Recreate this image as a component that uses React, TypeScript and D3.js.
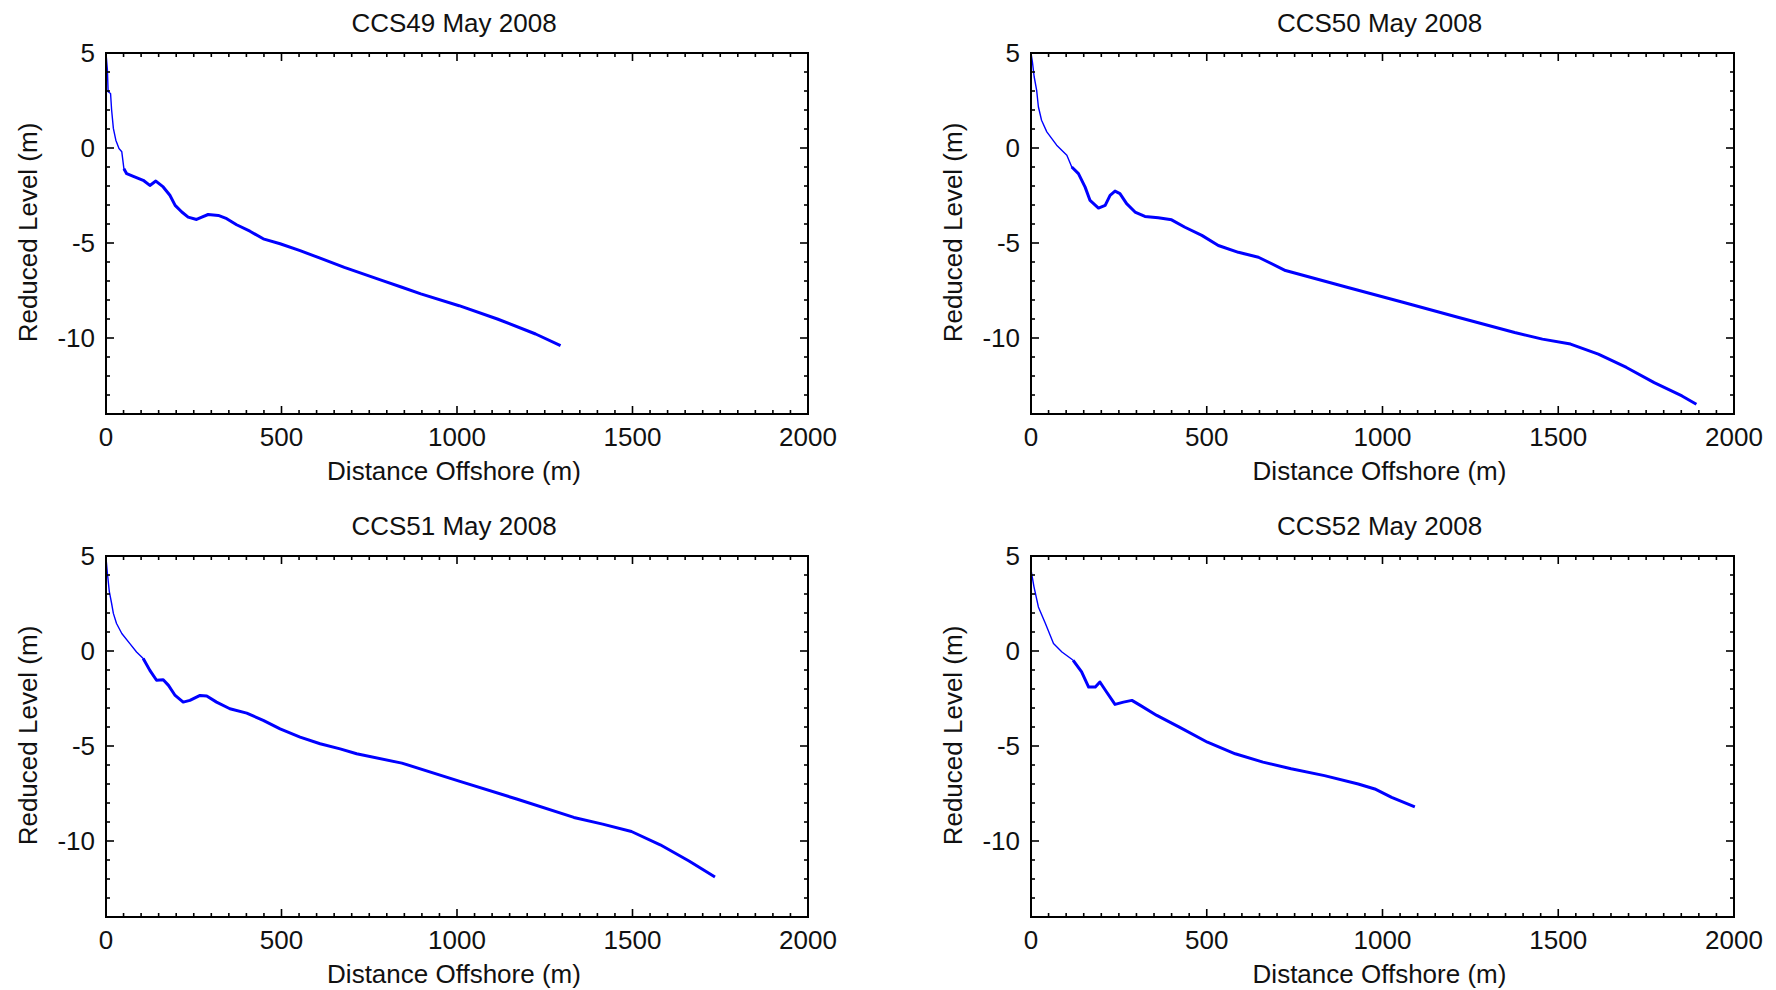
import React from "react";
import * as d3 from "d3";

// ---------- data ----------
const TITLES = ["CCS49 May 2008", "CCS50 May 2008", "CCS51 May 2008", "CCS52 May 2008"];
const X_LABEL = "Distance Offshore (m)";
const Y_LABEL = "Reduced Level (m)";
const X_DOMAIN = [0, 2000];
const Y_DOMAIN = [-14, 5];
const X_TICKS = [0, 500, 1000, 1500, 2000];
const Y_TICKS = [5, 0, -5, -10];

const CCS49_DIST = [0, 4, 6, 13, 16, 21, 28, 37, 45, 51, 59, 78, 106, 125, 142, 163, 182, 197, 216, 234, 258, 273, 291, 320, 344, 372, 410, 448, 496, 553, 610, 679, 788, 843, 897, 1006, 1115, 1224, 1295];
const CCS49_LEVEL = [5.0, 4.1, 2.96, 2.87, 2.0, 1.03, 0.41, -0.03, -0.2, -1.09, -1.35, -1.49, -1.7, -1.97, -1.74, -2.05, -2.49, -3.02, -3.37, -3.64, -3.76, -3.64, -3.5, -3.55, -3.72, -4.04, -4.38, -4.78, -5.04, -5.4, -5.8, -6.28, -6.98, -7.33, -7.68, -8.3, -9.0, -9.79, -10.4];

const CCS50_DIST = [0, 4, 9, 16, 21, 30, 45, 73, 102, 116, 135, 154, 168, 192, 211, 225, 239, 253, 272, 296, 324, 362, 400, 438, 486, 533, 590, 647, 724, 899, 1058, 1217, 1376, 1455, 1535, 1614, 1694, 1773, 1852, 1893];
const CCS50_LEVEL = [5.0, 4.54, 3.75, 3.05, 2.17, 1.46, 0.85, 0.15, -0.38, -1.0, -1.35, -2.06, -2.76, -3.16, -3.02, -2.49, -2.27, -2.4, -2.93, -3.37, -3.6, -3.67, -3.78, -4.17, -4.6, -5.13, -5.49, -5.75, -6.45, -7.33, -8.12, -8.92, -9.71, -10.06, -10.32, -10.85, -11.55, -12.35, -13.05, -13.49];

const CCS51_DIST = [0, 4, 9.5, 16, 21, 30, 45, 68, 87, 106, 125, 144, 163, 178, 197, 220, 239, 268, 287, 315, 353, 401, 448, 496, 553, 610, 667, 714, 843, 1006, 1170, 1333, 1415, 1497, 1579, 1661, 1735];
const CCS51_LEVEL = [4.9, 4.09, 3.12, 2.5, 1.98, 1.45, 0.92, 0.39, -0.05, -0.4, -1.02, -1.54, -1.51, -1.81, -2.34, -2.69, -2.6, -2.34, -2.37, -2.69, -3.04, -3.27, -3.65, -4.1, -4.53, -4.88, -5.15, -5.41, -5.9, -6.85, -7.79, -8.76, -9.11, -9.5, -10.2, -11.05, -11.9];

const CCS52_DIST = [0, 1, 8.5, 21, 41, 64, 88, 120, 144, 164, 183, 196, 215, 239, 263, 287, 311, 358, 422, 502, 581, 660, 740, 835, 931, 978, 1026, 1092];
const CCS52_LEVEL = [4.3, 4.17, 3.38, 2.32, 1.45, 0.39, -0.05, -0.49, -1.1, -1.9, -1.9, -1.63, -2.16, -2.81, -2.69, -2.6, -2.86, -3.39, -4.01, -4.8, -5.41, -5.85, -6.2, -6.56, -7.0, -7.26, -7.7, -8.2];

const PROFILE_DIST = [CCS49_DIST, CCS50_DIST, CCS51_DIST, CCS52_DIST];
const PROFILE_LEVEL = [CCS49_LEVEL, CCS50_LEVEL, CCS51_LEVEL, CCS52_LEVEL];
// distance beyond which the surveyed trace is dense / noisy (drawn heavier)
const NOISY_FROM = [55, 130, 120, 140];

// ---------- layout ----------
const W = 1776;
const H = 990;
const COL_LEFT = [106, 1031];
const ROW_TOP = [53, 556];
const PW = [702, 703];
const PH = 361;
const FONT = "'Liberation Sans', Arial, sans-serif";
const FS = 26;
const BLUE = "#0000ff";

function Panel({ idx }: { idx: number }) {
  const col = idx % 2;
  const row = Math.floor(idx / 2);
  const left = COL_LEFT[col];
  const top = ROW_TOP[row];
  const w = PW[col];
  const x = d3.scaleLinear().domain(X_DOMAIN).range([left, left + w]);
  const y = d3.scaleLinear().domain(Y_DOMAIN).range([top + PH, top]);
  const bottom = top + PH;
  const right = left + w;

  const dist = PROFILE_DIST[idx];
  const lev = PROFILE_LEVEL[idx];
  const pts: [number, number][] = dist.map((d, i) => [d, lev[i]]);
  const cut = NOISY_FROM[idx];
  const thinPts = pts.filter((p, i) => p[0] <= cut || (i > 0 && pts[i - 1][0] <= cut && p[0] > cut));
  const thickPts = pts.filter((p, i) => p[0] >= cut || (i < pts.length - 1 && pts[i + 1][0] >= cut && p[0] < cut));

  const line = d3
    .line<[number, number]>()
    .x((p) => x(p[0]))
    .y((p) => y(p[1]));

  const xMinor = d3.range(X_DOMAIN[0], X_DOMAIN[1] + 1, 50);
  const yMinor = d3.range(-14, 6, 1);

  const tickEls: React.ReactNode[] = [];
  xMinor.forEach((v) => {
    const major = v % 500 === 0;
    const len = major ? 8 : 4;
    const px = x(v);
    if (v === X_DOMAIN[0] || v === X_DOMAIN[1]) return;
    tickEls.push(<line key={"xb" + v} x1={px} x2={px} y1={bottom} y2={bottom - len} stroke="#000" strokeWidth={1.6} />);
    tickEls.push(<line key={"xt" + v} x1={px} x2={px} y1={top} y2={top + len} stroke="#000" strokeWidth={1.6} />);
  });
  yMinor.forEach((v) => {
    const major = v % 5 === 0;
    const len = major ? 8 : 4;
    const py = y(v);
    if (v === Y_DOMAIN[0] || v === Y_DOMAIN[1]) return;
    tickEls.push(<line key={"yl" + v} x1={left} x2={left + len} y1={py} y2={py} stroke="#000" strokeWidth={1.6} />);
    tickEls.push(<line key={"yr" + v} x1={right} x2={right - len} y1={py} y2={py} stroke="#000" strokeWidth={1.6} />);
  });

  const cx = (left + right) / 2;
  const cy = (top + bottom) / 2;

  return (
    <g>
      <text x={cx - 3} y={top - 21} textAnchor="middle" fontFamily={FONT} fontSize={FS} fill="#111">
        {TITLES[idx]}
      </text>
      <path d={line(thinPts) || ""} fill="none" stroke={BLUE} strokeWidth={1.4} strokeLinejoin="round" />
      <path d={line(thickPts) || ""} fill="none" stroke={BLUE} strokeWidth={3} strokeLinejoin="round" />
      {tickEls}
      <rect x={left} y={top} width={w} height={PH} fill="none" stroke="#000" strokeWidth={2} />
      {X_TICKS.map((v) => (
        <text key={"xl" + v} x={x(v)} y={bottom + 32} textAnchor="middle" fontFamily={FONT} fontSize={FS} fill="#111">
          {String(v)}
        </text>
      ))}
      {Y_TICKS.map((v) => (
        <text key={"ylb" + v} x={left - 11} y={y(v) + 9} textAnchor="end" fontFamily={FONT} fontSize={FS} fill="#111">
          {v < 0 ? "-" + Math.abs(v) : String(v)}
        </text>
      ))}
      <text x={cx - 3} y={bottom + 66} textAnchor="middle" fontFamily={FONT} fontSize={FS} fill="#111">
        {X_LABEL}
      </text>
      <text
        transform={`translate(${left - 69},${cy - 1}) rotate(-90)`}
        textAnchor="middle"
        fontFamily={FONT}
        fontSize={FS}
        fill="#111"
      >
        {Y_LABEL}
      </text>
    </g>
  );
}

export default function App() {
  return (
    <svg
      width={W}
      height={H}
      viewBox={`0 0 ${W} ${H}`}
      style={{ position: "absolute", left: 0, top: 0, background: "#fff" }}
    >
      <rect x={0} y={0} width={W} height={H} fill="#fff" />
      {[0, 1, 2, 3].map((i) => (
        <Panel key={i} idx={i} />
      ))}
    </svg>
  );
}
